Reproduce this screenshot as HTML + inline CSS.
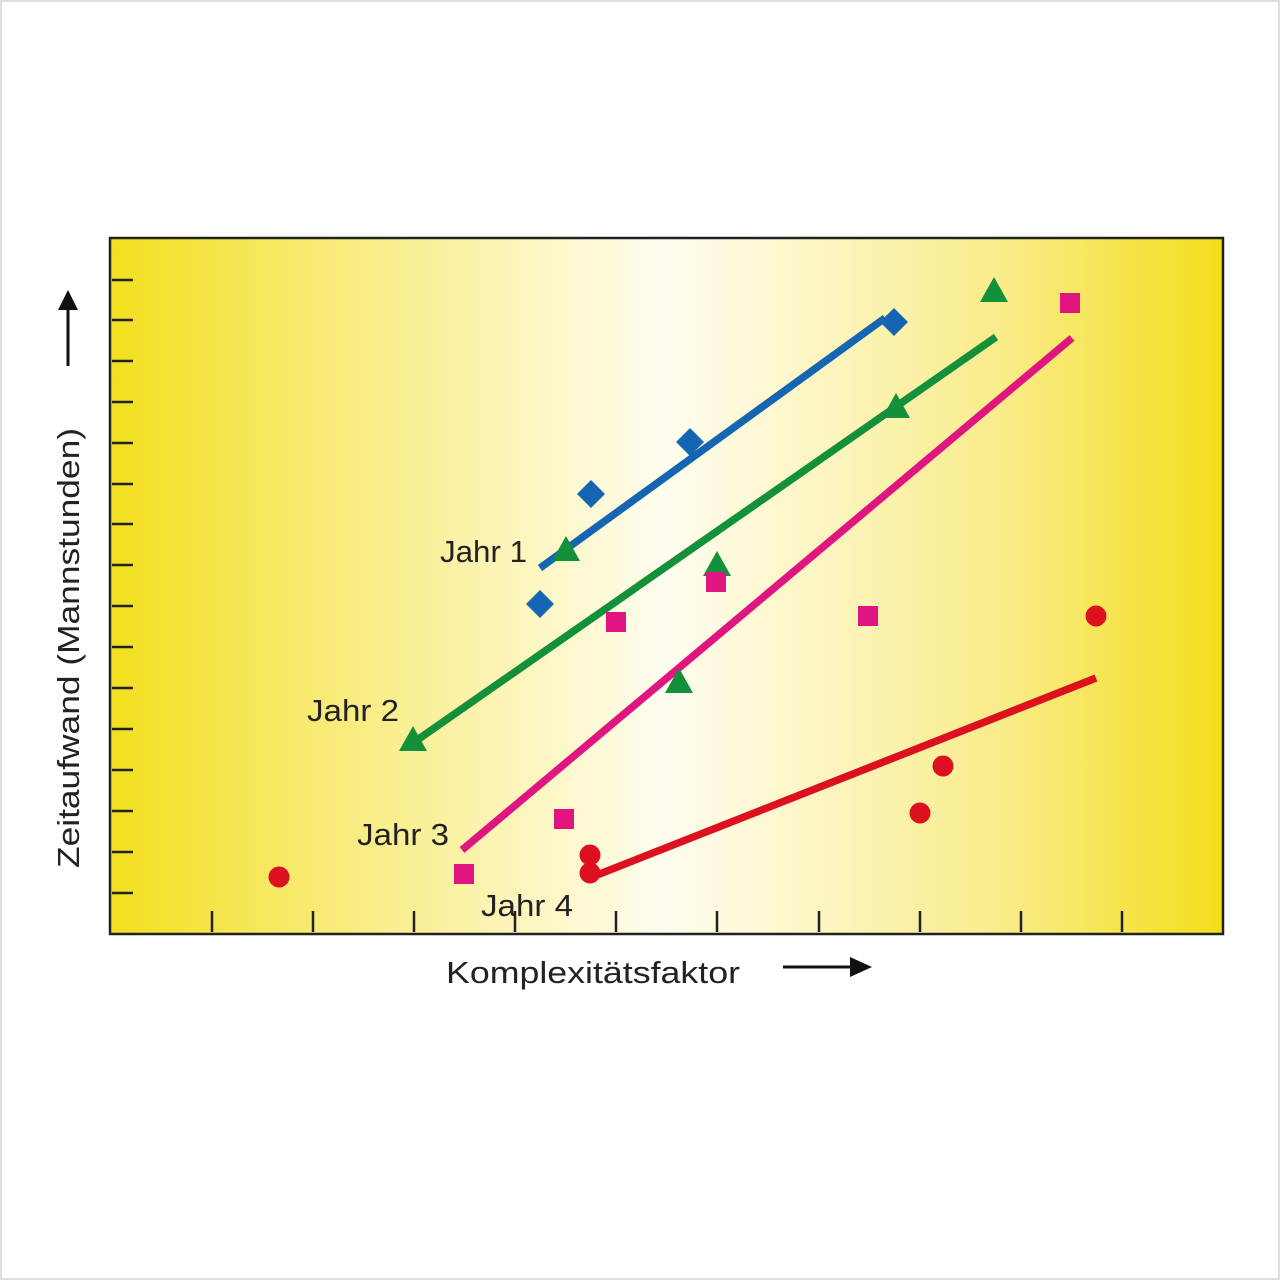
<!DOCTYPE html>
<html><head><style>html,body{margin:0;padding:0;background:#fff}</style></head>
<body>
<svg width="1280" height="1280" viewBox="0 0 1280 1280" xmlns="http://www.w3.org/2000/svg" font-family="Liberation Sans, sans-serif">
<defs>
<linearGradient id="g" x1="0" x2="1" y1="0" y2="0">
<stop offset="0" stop-color="#f3df1e"/>
<stop offset="0.2" stop-color="#f8eb7a"/>
<stop offset="0.5" stop-color="#fffdf0"/>
<stop offset="0.8" stop-color="#f9ec8a"/>
<stop offset="1" stop-color="#f3de1a"/>
</linearGradient>
</defs>
<rect x="1" y="1" width="1278" height="1278" fill="#fff" stroke="#ddd" stroke-width="2"/>
<rect x="110" y="238" width="1113" height="696" fill="url(#g)" stroke="#222" stroke-width="2.5"/>
<g stroke="#222" stroke-width="2.5">
<path d="M112 280H133M112 320H133M112 361H133M112 402H133M112 443H133M112 484H133M112 524H133M112 565H133M112 606H133M112 647H133M112 688H133M112 729H133M112 770H133M112 811H133M112 852H133M112 893H133"/>
<path d="M212 911V932M313 911V932M414 911V932M515 911V932M616 911V932M717 911V932M819 911V932M920 911V932M1021 911V932M1122 911V932"/>
</g>
<g stroke-width="7.5" fill="none" stroke-linecap="butt">
<line x1="540" y1="568" x2="885" y2="318" stroke="#1466b3"/>
<line x1="410" y1="745" x2="996" y2="337" stroke="#14903a"/>
<line x1="462" y1="850" x2="1072" y2="338" stroke="#e0157f"/>
<line x1="592" y1="877" x2="1096" y2="678" stroke="#dd1020"/>
</g>
<g fill="#1466b3">
<path d="M540 590l14 14-14 14-14-14z"/><path d="M591 480l14 14-14 14-14-14z"/><path d="M690 428l14 14-14 14-14-14z"/><path d="M894 308l14 14-14 14-14-14z"/>
</g>
<g fill="#14903a">
<path d="M566 536l14 25h-28z"/><path d="M717 551l14 25h-28z"/><path d="M679 668l14 25h-28z"/><path d="M896 393l14 25h-28z"/><path d="M994 277l14 25h-28z"/><path d="M413 726l14 25h-28z"/>
</g>
<g fill="#e0157f">
<rect x="606" y="612" width="20" height="20"/><rect x="706" y="572" width="20" height="20"/><rect x="858" y="606" width="20" height="20"/><rect x="1060" y="293" width="20" height="20"/><rect x="554" y="809" width="20" height="20"/><rect x="454" y="864" width="20" height="20"/>
</g>
<g fill="#dd1020">
<circle cx="279" cy="877" r="10.5"/><circle cx="590" cy="855" r="10.5"/><circle cx="590" cy="873" r="10.5"/><circle cx="920" cy="813" r="10.5"/><circle cx="943" cy="766" r="10.5"/><circle cx="1096" cy="616" r="10.5"/>
</g>
<g font-size="31" fill="#222">
<text x="440" y="562" textLength="87" lengthAdjust="spacingAndGlyphs">Jahr 1</text>
<text x="307" y="721" textLength="92" lengthAdjust="spacingAndGlyphs">Jahr 2</text>
<text x="357" y="845" textLength="92" lengthAdjust="spacingAndGlyphs">Jahr 3</text>
<text x="481" y="916" textLength="92" lengthAdjust="spacingAndGlyphs">Jahr 4</text>
<text x="446" y="983" textLength="294" lengthAdjust="spacingAndGlyphs">Komplexitätsfaktor</text>
<text transform="translate(79,868) rotate(-90)" textLength="440" lengthAdjust="spacingAndGlyphs">Zeitaufwand (Mannstunden)</text>
</g>
<g stroke="#111" stroke-width="3" fill="#111">
<line x1="68" y1="366" x2="68" y2="305"/><path d="M58 310L68 290L78 310z" stroke="none"/>
<line x1="783" y1="967" x2="853" y2="967"/><path d="M850 957L872 967L850 977z" stroke="none"/>
</g>
</svg>
</body></html>
